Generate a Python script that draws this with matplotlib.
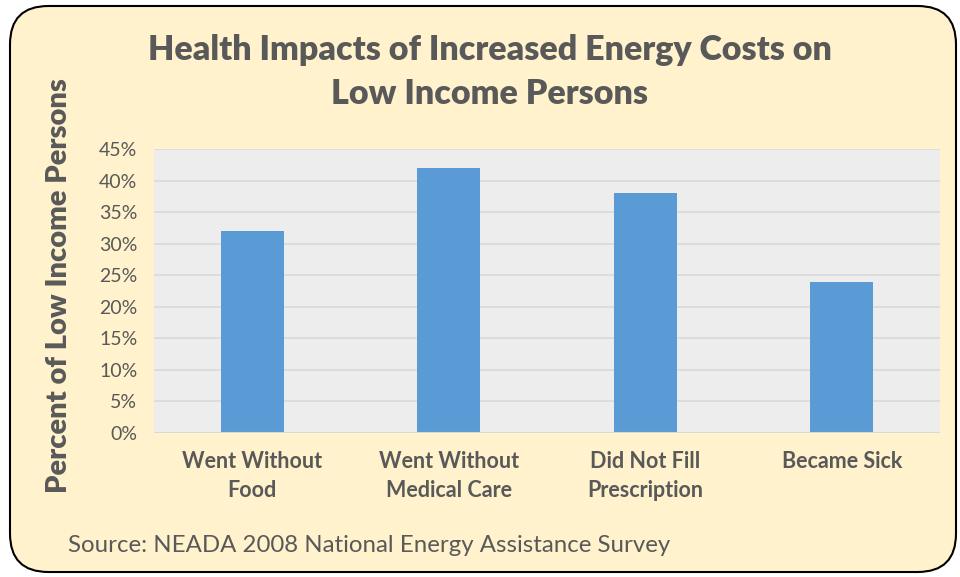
import matplotlib.pyplot as plt
from matplotlib.patches import FancyBboxPatch

# Data
categories = ['Went Without\nFood', 'Went Without\nMedical Care', 'Did Not Fill\nPrescription', 'Became Sick']
percent = [32, 42, 38, 24]
yticks = [0, 5, 10, 15, 20, 25, 30, 35, 40, 45]

plt.rcParams['font.family'] = ['Lato', 'DejaVu Sans']
grey = '#595959'

fig = plt.figure(figsize=(9.6, 5.77), dpi=100)
fig.patch.set_facecolor('white')

# rounded background panel
panel = FancyBboxPatch((10 / 960, 5 / 577), 946 / 960, 566 / 577,
                       boxstyle='round,pad=0,rounding_size=0.04',
                       transform=fig.transFigure, facecolor='#FFF2CC',
                       edgecolor='black', linewidth=1.5, zorder=-10,
                       mutation_aspect=960 / 577)
fig.patches.append(panel)

ax = fig.add_axes([154 / 960, 1 - 433 / 577, 786 / 960, 284 / 577])
ax.set_facecolor('#EDEDED')
x = range(len(categories))
ax.bar(x, percent, width=0.32, color='#5B9BD5', zorder=3)
ax.set_xlim(-0.5, len(categories) - 0.5)
ax.set_ylim(0, 45)
ax.set_yticks(yticks)
ax.set_yticklabels([f'{v}%' for v in yticks], fontsize=14, color=grey)
ax.set_xticks(list(x))
ax.set_xticklabels(categories, fontsize=15.5, fontweight='bold', color=grey, linespacing=1.45)
ax.tick_params(axis='both', length=0)
ax.tick_params(axis='x', pad=13)
ax.tick_params(axis='y', pad=12)
ax.grid(axis='y', color='#D9D9D9', linewidth=1.2, zorder=0)
for s in ax.spines.values():
    s.set_visible(False)
ax.axhline(0, color='#D9D9D9', linewidth=1.5, zorder=4)

ax.set_ylabel('Percent of Low Income Persons', fontsize=21, fontweight='heavy', color=grey)
ax.yaxis.set_label_coords(-0.104, 0.52)
fig.text(490 / 960, 1 - 72 / 577, 'Health Impacts of Increased Energy Costs on\nLow Income Persons',
         ha='center', va='center', fontsize=24.5, fontweight='heavy', color=grey, linespacing=1.45)
fig.text(68 / 960, 1 - 546 / 577, 'Source: NEADA 2008 National Energy Assistance Survey',
         ha='left', va='center', fontsize=17.3, color=grey)

fig.savefig('out.png', dpi=100)
